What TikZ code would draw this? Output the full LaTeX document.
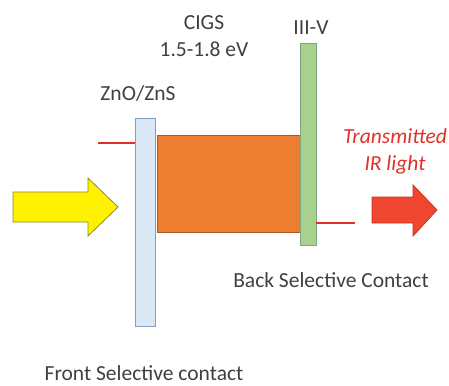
\documentclass[tikz,border=0pt]{standalone}
\usepackage{fontspec}
\setmainfont{Carlito}
\usetikzlibrary{positioning,calc}
\definecolor{znoblue}{HTML}{DAE8F5}
\definecolor{znoedge}{HTML}{7F9FBF}
\definecolor{cigsorange}{HTML}{ED7D31}
\definecolor{cigsedge}{HTML}{A65A28}
\definecolor{iiivgreen}{HTML}{A9D18E}
\definecolor{iiivedge}{HTML}{7FA47F}
\definecolor{lightred}{HTML}{F0452F}
\definecolor{wirered}{HTML}{E0302A}
\definecolor{labelgray}{HTML}{404040}
\tikzset{
layer/.style={draw,inner sep=0pt,line width=.8pt},
label/.style={text=labelgray,font=\fontsize{21.5}{27}\selectfont,align=center,inner sep=0pt},
wire/.style={draw=wirered,line width=2pt},
beam/.style={line width=.8pt,line join=miter}
}
\begin{document}
\begin{tikzpicture}[x=1pt,y=-1pt]
\useasboundingbox (0,0) rectangle (449,385);
% layers of the cell
\node[layer,fill=znoblue,draw=znoedge,minimum width=20pt,minimum height=208pt](zno) at (145,222){};
\node[layer,fill=cigsorange,draw=cigsedge,minimum width=144pt,minimum height=97pt](cigs) at (229,183.5){};
\node[layer,fill=iiivgreen,draw=iiivedge,minimum width=16pt,minimum height=202pt](iiiv) at (308,144){};
% contacts
\coordinate (fw) at (98,143);
\coordinate (bw) at (355,223);
\draw[wire](fw)--(fw -| zno.west);
\draw[wire](bw -| iiiv.east)--(bw);
% light in and out
\filldraw[beam,fill=yellow,draw=olive!70!gray](13,192)--(88,192)--(88,178)--(118,207)--(88,236)--(88,222)--(13,222)--cycle;
\filldraw[beam,fill=lightred,draw=lightred!80!black](372,197)--(413,197)--(413,185)--(437,210)--(413,236)--(413,223)--(372,223)--cycle;
% labels
\node[label](cigslbl) at (204,36){CIGS\\1.5-1.8 eV};
\node[label](iiivlbl) at (311,28){III-V};
\node[label](znolbl) at (138,93){ZnO/ZnS};
\node[label,text=wirered,font=\fontsize{21.5}{27}\selectfont\itshape](irlbl) at (395,151){Transmitted\\IR light};
\node[label](backlbl) at (331,280){Back Selective Contact};
\node[label](frontlbl) at (144,373){Front Selective contact};
\end{tikzpicture}
\end{document}
